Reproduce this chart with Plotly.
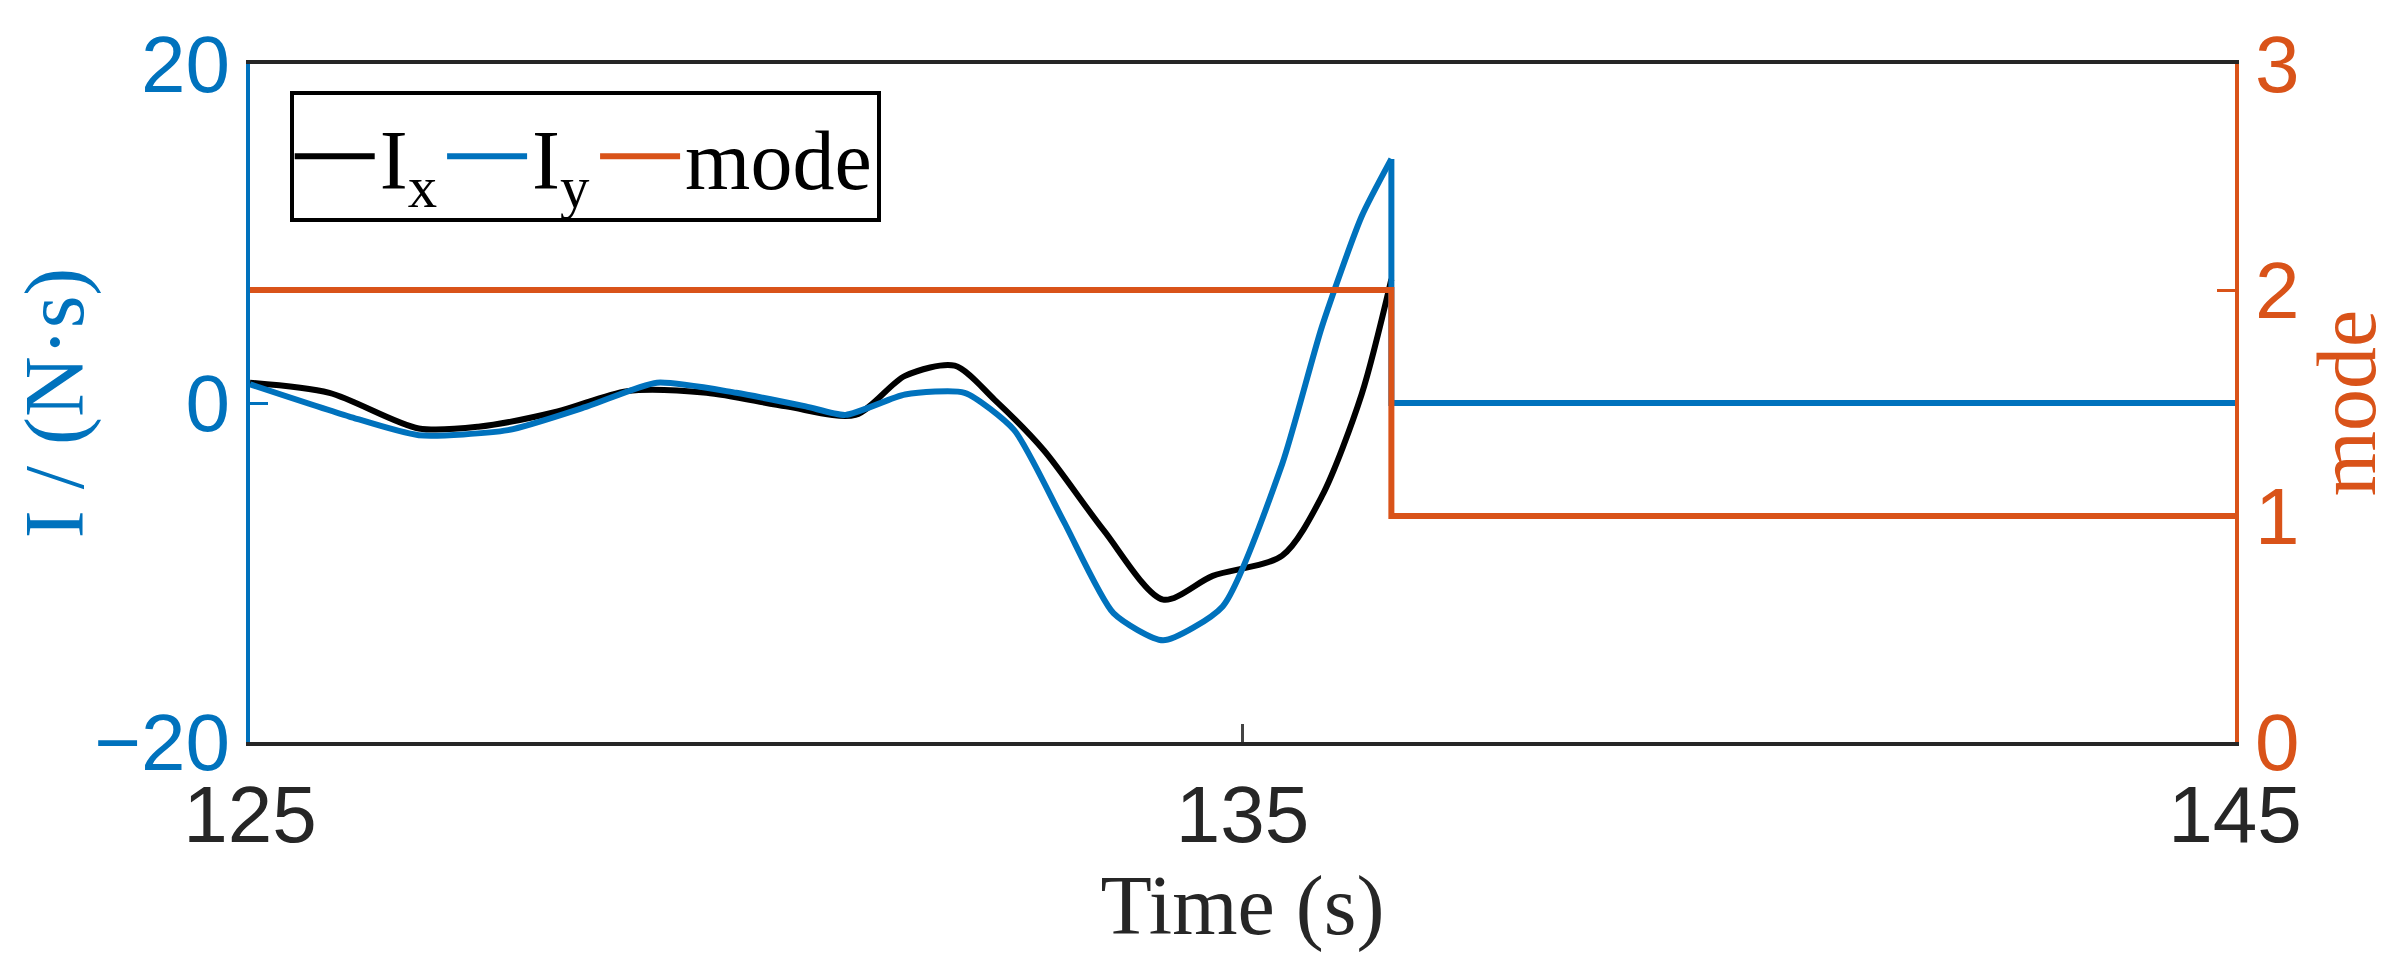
import plotly.graph_objects as go

t_x = [125, 125.8, 126.7, 127.3, 128.1, 128.8, 129.6, 130.4, 131.1, 131.6, 132.1, 132.5, 133.0, 133.6, 134.2, 134.7, 135.4, 135.8, 136.2, 136.5]
i_x = [1.2, 0.6, -1.5, -1.4, -0.5, 0.7, 0.6, -0.2, -0.7, 1.6, 2.2, 0.2, -2.8, -7.5, -11.6, -10.2, -9.0, -5.5, 0.5, 7.3]
t_y = [125, 126.0, 126.7, 127.6, 128.4, 129.1, 129.9, 130.6, 131.0, 131.6, 132.2, 132.7, 133.2, 133.7, 134.2, 134.8, 135.4, 135.8, 136.2, 136.5]
i_y = [1.1, -0.8, -1.9, -1.6, -0.2, 1.2, 0.6, -0.2, -0.7, 0.5, 0.6, -1.6, -7.0, -12.4, -14.0, -12.0, -3.6, 4.5, 11.0, 14.4]
t_y_after = [136.5, 136.5, 145]
i_y_after = [14.4, 0.0, 0.0]
t_m = [125, 136.5, 136.5, 145]
mode = [2, 2, 1, 1]

BLUE = "#0072BD"
ORANGE = "#D95319"

fig = go.Figure()
fig.add_trace(go.Scatter(x=t_x, y=i_x, mode="lines", name="I<sub>x</sub>",
                         line=dict(color="black", width=6, shape="spline", smoothing=0.8)))
fig.add_trace(go.Scatter(x=t_y, y=i_y, mode="lines", name="I<sub>y</sub>", legendgroup="y",
                         line=dict(color=BLUE, width=6, shape="spline", smoothing=0.6)))
fig.add_trace(go.Scatter(x=t_y_after, y=i_y_after, mode="lines", showlegend=False, legendgroup="y",
                         line=dict(color=BLUE, width=6)))
fig.add_trace(go.Scatter(x=t_m, y=mode, mode="lines", name="mode", yaxis="y2",
                         line=dict(color=ORANGE, width=6)))

fig.update_layout(
    width=2397, height=972, plot_bgcolor="white", paper_bgcolor="white",
    margin=dict(l=224, r=170, t=47, b=238),
    font=dict(family="Liberation Sans", size=80, color="black"),
    xaxis=dict(range=[125, 145], tickvals=[125, 135, 145], ticks="inside", ticklen=18,
               tickwidth=3, linecolor="#262626", linewidth=4, mirror=True, showgrid=False,
               zeroline=False, tickfont=dict(size=80, color="#262626"),
               title=dict(text="Time (s)", font=dict(family="Liberation Serif", size=84, color="#262626"), standoff=10)),
    yaxis=dict(range=[-20, 20], tickvals=[-20, 0, 20], ticktext=["−20", "0", "20"], ticks="inside",
               ticklen=18, tickwidth=3, linecolor=BLUE, linewidth=4, showgrid=False, zeroline=False,
               tickfont=dict(size=80, color=BLUE), tickcolor=BLUE,
               title=dict(text="I / (N·s)", font=dict(family="Liberation Serif", size=84, color=BLUE), standoff=15)),
    yaxis2=dict(range=[0, 3], tickvals=[0, 1, 2, 3], overlaying="y", side="right", ticks="inside",
                ticklen=18, tickwidth=3, linecolor=ORANGE, linewidth=4, showgrid=False, zeroline=False,
                tickfont=dict(size=80, color=ORANGE), tickcolor=ORANGE,
                title=dict(text="mode", font=dict(family="Liberation Serif", size=84, color=ORANGE), standoff=10)),
    legend=dict(orientation="h", x=0.02, y=0.96, xanchor="left", yanchor="top",
                bgcolor="white", bordercolor="black", borderwidth=4,
                font=dict(family="Liberation Serif", size=84, color="black"), itemwidth=80),
    showlegend=True,
)
fig.write_html("out.html")
